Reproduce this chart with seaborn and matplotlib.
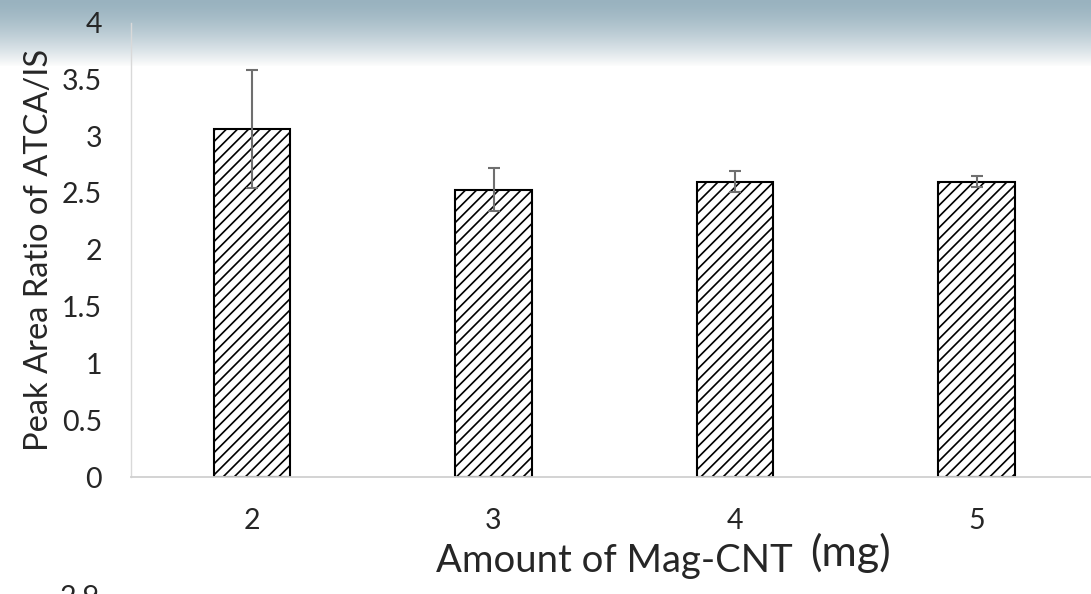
import numpy as np
import pandas as pd
import matplotlib
matplotlib.use("Agg")
import matplotlib.pyplot as plt
import seaborn as sns

# values
amounts = ["2", "3", "4", "5"]
peak_ratio = [3.06, 2.53, 2.60, 2.60]
ratio_err = [0.52, 0.19, 0.095, 0.05]
y_ticks = [0, 0.5, 1, 1.5, 2, 2.5, 3, 3.5, 4]
y_tick_labels = ["0", "0.5", "1", "1.5", "2", "2.5", "3", "3.5", "4"]

sns.set_style("white")
plt.rcParams["font.family"] = ["Lato", "DejaVu Sans"]
plt.rcParams["hatch.linewidth"] = 1.2
plt.rcParams["hatch.color"] = "black"

W, H = 1091, 594
fig = plt.figure(figsize=(W / 100, H / 100), dpi=100)
fig.patch.set_facecolor("white")

# slide-like bluish gradient band at the top
bg = fig.add_axes([0, 1 - 66 / H, 1, 66 / H], zorder=-5)
t = np.linspace(0, 1, 120)[:, None]
s = t ** 1.5
top = np.array([0.60, 0.70, 0.75])
img = top[None, None, :] * (1 - s[:, :, None]) + 0.99 * s[:, :, None]
bg.imshow(img, aspect="auto", extent=[0, 1, 0, 1])
bg.axis("off")

ax = fig.add_axes([131.2 / W, 1 - 477 / H, 966.3 / W, 454.5 / H])
ax.patch.set_alpha(0)

df = pd.DataFrame({"amount": amounts, "ratio": peak_ratio, "err": ratio_err})
sns.barplot(data=df, x="amount", y="ratio", color="white", edgecolor="black",
            linewidth=1.5, width=0.317, errorbar=None, ax=ax, zorder=2)
for p in ax.patches:
    p.set_hatch("///")
    p.set_facecolor("white")

ax.errorbar(np.arange(len(amounts)), df["ratio"], yerr=df["err"], fmt="none",
            ecolor="#6f6f6f", elinewidth=1.5, capsize=4.3, capthick=1.5, zorder=3)

ax.set_xlim(-0.5, 3.5)
ax.set_ylim(0, 4)
ax.set_yticks(y_ticks)
ax.set_yticklabels(y_tick_labels)
ax.tick_params(axis="y", length=0, pad=21, labelsize=20.5)
ax.tick_params(axis="x", length=0, pad=22, labelsize=20.5)
for side in ["top", "right"]:
    ax.spines[side].set_visible(False)
ax.spines["left"].set_color("#d9d9d9")
ax.spines["bottom"].set_color("#d0d0d0")
ax.spines["left"].set_linewidth(1.0)
ax.spines["bottom"].set_linewidth(1.3)

ax.set_xlabel("Amount of Mag-CNT", fontsize=27.5, labelpad=7)
ax.set_ylabel("Peak Area Ratio of ATCA/IS", fontsize=23.5, labelpad=6)

fig.text(810 / W, 1 - 566 / H, "(mg)", fontsize=31, ha="left", va="baseline")
# cut-off tick label of the next chart below
fig.text(100 / W, 1 - 585 / H, "2.9", fontsize=20.5, ha="right", va="top")

fig.savefig("out.png", dpi=100)
